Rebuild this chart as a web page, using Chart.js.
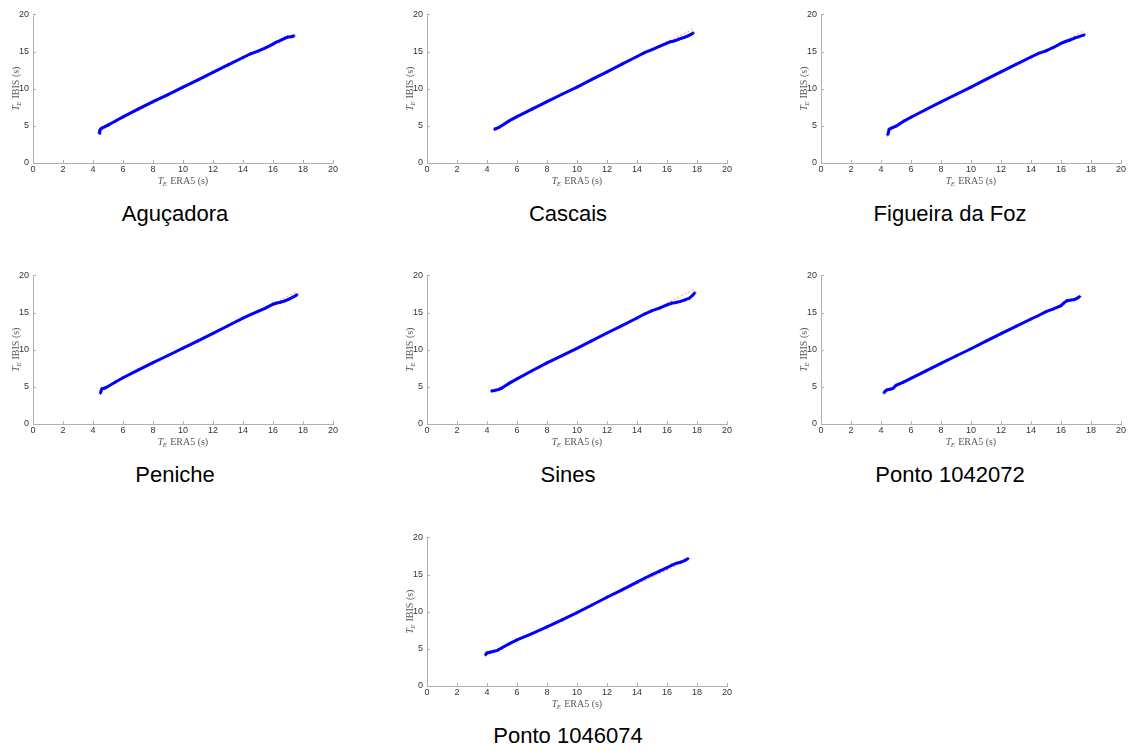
<!DOCTYPE html>
<html>
<head>
<meta charset="utf-8">
<script src="https://cdn.jsdelivr.net/npm/chart.js@4.4.1/dist/chart.umd.min.js"></script>
<style>
  body { margin: 0; background: #fff; width: 1131px; height: 751px; overflow: hidden; position: relative; }
  .panel { position: absolute; }
  .caption {
    position: absolute; transform: translateX(-50%); white-space: nowrap;
    font-family: "Liberation Sans", Arial, sans-serif; font-size: 22px; line-height: 22px; color: #000;
  }
</style>
</head>
<body>
<script>
// station names (captions under each panel)
const stations = ['Aguçadora', 'Cascais', 'Figueira da Foz', 'Peniche', 'Sines', 'Ponto 1042072', 'Ponto 1046074'];

const xTicks = [0, 2, 4, 6, 8, 10, 12, 14, 16, 18, 20];
const yTicks = [0, 5, 10, 15, 20];

// quantiles: TE ERA5 (x) vs TE IBIS (y)
const agucadoraX = [4.4, 4.45, 4.5, 4.6, 4.8, 5.0, 5.5, 6, 7, 8, 9, 10, 11, 12, 13, 14, 14.5, 15, 15.5, 16, 16.2, 16.4, 16.6, 16.8, 17.0, 17.2, 17.4];
const agucadoraY = [4.05, 4.35, 4.55, 4.7, 4.9, 5.1, 5.65, 6.2, 7.25, 8.25, 9.2, 10.2, 11.2, 12.2, 13.2, 14.2, 14.7, 15.05, 15.5, 16.0, 16.25, 16.4, 16.6, 16.8, 16.95, 17.0, 17.1];
const agucadoraRef = [[4.4, 4.45], [17.4, 17.4]];

const cascaisX = [4.5, 4.6, 4.8, 5, 5.5, 6, 7, 8, 9, 10, 11, 12, 13, 14, 14.5, 15, 15.5, 16, 16.2, 16.4, 16.6, 16.8, 17.0, 17.2, 17.4, 17.6, 17.75];
const cascaisY = [4.55, 4.62, 4.8, 5.05, 5.7, 6.25, 7.25, 8.27, 9.25, 10.22, 11.25, 12.27, 13.3, 14.33, 14.85, 15.25, 15.7, 16.12, 16.3, 16.38, 16.5, 16.68, 16.8, 16.95, 17.1, 17.3, 17.5];
const cascaisRef = [[4.5, 4.6], [17.75, 18.05]];

const figueiraX = [4.45, 4.5, 4.55, 4.7, 5, 5.5, 6, 7, 8, 9, 10, 11, 12, 13, 14, 14.5, 15, 15.5, 16, 16.3, 16.6, 16.9, 17.2, 17.55];
const figueiraY = [3.8, 4.2, 4.55, 4.7, 4.95, 5.6, 6.15, 7.2, 8.22, 9.22, 10.22, 11.25, 12.27, 13.27, 14.27, 14.75, 15.1, 15.55, 16.1, 16.35, 16.55, 16.8, 17.0, 17.25];
const figueiraRef = [[4.45, 4.5], [17.55, 17.8]];

const penicheX = [4.5, 4.55, 4.6, 4.8, 5, 5.5, 6, 7, 8, 9, 10, 11, 12, 13, 14, 14.5, 15, 15.5, 16, 16.2, 16.5, 16.8, 17.1, 17.4, 17.6];
const penicheY = [4.15, 4.5, 4.75, 4.85, 5.05, 5.65, 6.22, 7.25, 8.25, 9.22, 10.2, 11.2, 12.2, 13.22, 14.25, 14.72, 15.17, 15.6, 16.12, 16.25, 16.38, 16.58, 16.85, 17.15, 17.4];
const penicheRef = [[4.5, 4.6], [17.6, 17.8]];

const sinesX = [4.3, 4.5, 4.8, 5, 5.5, 6, 7, 8, 9, 10, 11, 12, 13, 14, 14.5, 15, 15.5, 16, 16.3, 16.6, 16.9, 17.2, 17.5, 17.7, 17.85];
const sinesY = [4.45, 4.5, 4.65, 4.85, 5.5, 6.08, 7.17, 8.22, 9.2, 10.18, 11.22, 12.25, 13.25, 14.27, 14.8, 15.25, 15.6, 16.03, 16.25, 16.35, 16.5, 16.7, 16.95, 17.3, 17.65];
const sinesRef = [[4.3, 4.4], [17.85, 18.15]];

const ponto1042072X = [4.2, 4.3, 4.4, 4.6, 4.8, 5.0, 5.5, 6, 7, 8, 9, 10, 11, 12, 13, 14, 14.5, 15, 15.5, 16, 16.2, 16.4, 16.6, 16.9, 17.1, 17.25];
const ponto1042072Y = [4.2, 4.45, 4.6, 4.68, 4.8, 5.2, 5.65, 6.15, 7.15, 8.17, 9.15, 10.13, 11.15, 12.17, 13.15, 14.13, 14.6, 15.12, 15.5, 15.92, 16.3, 16.6, 16.65, 16.75, 16.95, 17.15];
const ponto1042072Ref = [[4.2, 4.3], [17.25, 17.2]];

const ponto1046074X = [3.9, 4.0, 4.2, 4.4, 4.7, 5.0, 5.5, 6, 7, 8, 9, 10, 11, 12, 13, 14, 14.5, 15, 15.5, 16, 16.3, 16.6, 16.9, 17.2, 17.4];
const ponto1046074Y = [4.2, 4.45, 4.55, 4.65, 4.8, 5.15, 5.7, 6.2, 7.05, 7.95, 8.9, 9.87, 10.9, 11.95, 12.95, 13.97, 14.5, 15.0, 15.45, 15.92, 16.25, 16.5, 16.65, 16.9, 17.15];
const ponto1046074Ref = [[3.9, 4.1], [17.4, 16.95]];

const seriesX = [agucadoraX, cascaisX, figueiraX, penicheX, sinesX, ponto1042072X, ponto1046074X];
const seriesY = [agucadoraY, cascaisY, figueiraY, penicheY, sinesY, ponto1042072Y, ponto1046074Y];
const seriesRef = [agucadoraRef, cascaisRef, figueiraRef, penicheRef, sinesRef, ponto1042072Ref, ponto1046074Ref];

// plot area top-left corners and caption spots (page px)
const plotPos = [[33, 13], [427, 13], [821, 13], [33, 274], [427, 274], [821, 274], [427, 536]];
const captionPos = [[175, 203], [568, 203], [950, 203], [175, 464], [568, 464], [950, 464], [568, 725]];

const PAD_L = 45, PAD_T = 8, PAD_R = 15, PAD_B = 30, PW = 300, PH = 150;
const tickFont = { family: '"Liberation Sans", Arial, sans-serif', size: 9 };
const axisGray = '#b0b0b0';

// T_E label drawn by hand: italic T with subscript E, then the rest in upright serif
function drawTE(ctx, cx, cy, rest, rotate) {
  ctx.save();
  ctx.translate(cx, cy);
  if (rotate) ctx.rotate(-Math.PI / 2);
  const big = 'italic 10px "Liberation Serif", "Times New Roman", serif';
  const sub = 'italic 7px "Liberation Serif", "Times New Roman", serif';
  const plain = '10px "Liberation Serif", "Times New Roman", serif';
  ctx.font = big; const wT = ctx.measureText('T').width;
  ctx.font = sub; const wE = ctx.measureText('E').width;
  ctx.font = plain; const wR = ctx.measureText(' ' + rest).width;
  let x = -(wT + wE + wR) / 2;
  ctx.fillStyle = '#5a5a5a';
  ctx.textBaseline = 'middle';
  ctx.font = big; ctx.fillText('T', x, 0); x += wT;
  ctx.font = sub; ctx.fillText('E', x - 0.5, 3); x += wE;
  ctx.font = plain; ctx.fillText(' ' + rest, x, 0);
  ctx.restore();
}

const extras = {
  id: 'extras',
  afterDraw(chart) {
    const { ctx, chartArea: a, scales: { x, y } } = chart;
    ctx.save();
    ctx.strokeStyle = axisGray;
    ctx.lineWidth = 1;
    ctx.beginPath();
    xTicks.forEach(v => {
      const px = Math.round(x.getPixelForValue(v)) + 0.5;
      ctx.moveTo(px, a.bottom); ctx.lineTo(px, a.bottom - 3);
    });
    yTicks.forEach(v => {
      const py = Math.round(y.getPixelForValue(v)) + 0.5;
      ctx.moveTo(a.left, py); ctx.lineTo(a.left + 3, py);
    });
    ctx.stroke();
    ctx.restore();
    drawTE(ctx, (a.left + a.right) / 2, a.bottom + 18, 'ERA5 (s)', false);
    drawTE(ctx, a.left - 17, (a.top + a.bottom) / 2, 'IBIS (s)', true);
  }
};

stations.forEach((name, i) => {
  const [pl, pt] = plotPos[i];
  const wrap = document.createElement('div');
  wrap.className = 'panel';
  wrap.style.left = (pl - PAD_L) + 'px';
  wrap.style.top = (pt - PAD_T) + 'px';
  const cv = document.createElement('canvas');
  cv.width = PAD_L + PW + PAD_R;
  cv.height = PAD_T + PH + PAD_B;
  wrap.appendChild(cv);
  document.body.appendChild(wrap);

  const cap = document.createElement('div');
  cap.className = 'caption';
  cap.textContent = name;
  cap.style.left = captionPos[i][0] + 'px';
  cap.style.top = captionPos[i][1] + 'px';
  document.body.appendChild(cap);

  const pts = seriesX[i].map((v, k) => ({ x: v, y: seriesY[i][k] }));
  const ref = seriesRef[i].map(p => ({ x: p[0], y: p[1] }));

  new Chart(cv, {
    type: 'scatter',
    data: {
      datasets: [
        {
          data: pts, showLine: true, order: 1,
          borderColor: '#0000ff', borderWidth: 3,
          pointStyle: 'cross', pointRadius: 1.6, pointBorderWidth: 1,
          pointBorderColor: '#0000ff', pointBackgroundColor: '#0000ff'
        },
        {
          data: ref, showLine: true, order: 2,
          borderColor: 'rgba(255,0,0,0.55)', borderWidth: 0.8, borderDash: [2, 2],
          pointRadius: 0
        }
      ]
    },
    options: {
      responsive: false,
      animation: false,
      layout: { padding: { left: 0, top: PAD_T, right: PAD_R, bottom: 0 } },
      plugins: { legend: { display: false }, tooltip: { enabled: false } },
      scales: {
        x: {
          type: 'linear', min: 0, max: 20,
          afterBuildTicks: s => { s.ticks = xTicks.map(v => ({ value: v })); },
          afterFit: s => { s.height = PAD_B; },
          grid: { display: false, drawTicks: false, tickLength: 0 },
          border: { color: axisGray, width: 1 },
          ticks: { font: tickFont, color: '#333', padding: 1, maxRotation: 0 }
        },
        y: {
          type: 'linear', min: 0, max: 20,
          afterBuildTicks: s => { s.ticks = yTicks.map(v => ({ value: v })); },
          afterFit: s => { s.width = PAD_L; },
          grid: { display: false, drawTicks: false, tickLength: 0 },
          border: { color: axisGray, width: 1 },
          ticks: { font: tickFont, color: '#333', padding: 4 }
        }
      }
    },
    plugins: [extras]
  });
});
</script>
</body>
</html>
